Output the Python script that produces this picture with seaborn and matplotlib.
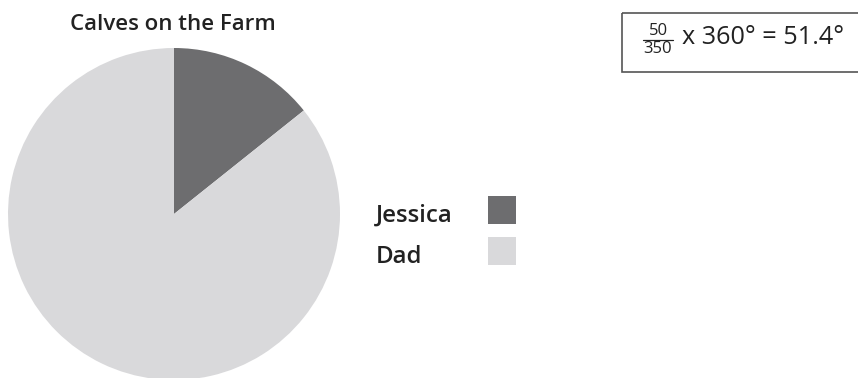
import matplotlib.pyplot as plt
import seaborn as sns
from matplotlib.patches import Rectangle

# data
labels = ['Jessica', 'Dad']
calves = [50, 300]
colors = ['#6d6d6f', '#d9d9db']
title = 'Calves on the Farm'

sns.set_theme(style='white')
plt.rcParams['font.family'] = ['Open Sans', 'DejaVu Sans']

fig = plt.figure(figsize=(8.58, 3.78), dpi=100)
ax = fig.add_axes([0, 0, 1, 1])

# y axis is inverted, so counterclock=True draws clockwise on screen
ax.pie(calves, colors=colors, startangle=-90, counterclock=True,
       center=(174, 214), radius=166, frame=True,
       wedgeprops=dict(linewidth=0))
ax.set_xlim(0, 858)
ax.set_ylim(378, 0)
ax.set_aspect('equal')
ax.axis('off')

ax.text(173, 25, title, ha='center', va='center', fontsize=16, fontweight='semibold', color='#222222')

# legend
for i, (lab, col) in enumerate(zip(labels, colors)):
    y = 210 + i * 41
    ax.text(376, y + 6, lab, ha='left', va='center', fontsize=17.3, fontweight='semibold', color='#222222')
    ax.add_patch(Rectangle((488, y - 14), 28, 28, color=col, lw=0))

# calculation box
ax.add_patch(Rectangle((622, 13), 240, 59, fill=False, edgecolor='#555555', lw=1.2, clip_on=False))
ax.text(658, 31, '50', ha='center', va='center', fontsize=12, color='#222222')
ax.plot([643, 673], [40, 40], color='#222222', lw=0.9)
ax.text(658, 49, '350', ha='center', va='center', fontsize=12, color='#222222')
ax.text(682, 38, 'x 360° = 51.4°', ha='left', va='center', fontsize=18.2, color='#222222')

fig.savefig('out.png', dpi=100)
